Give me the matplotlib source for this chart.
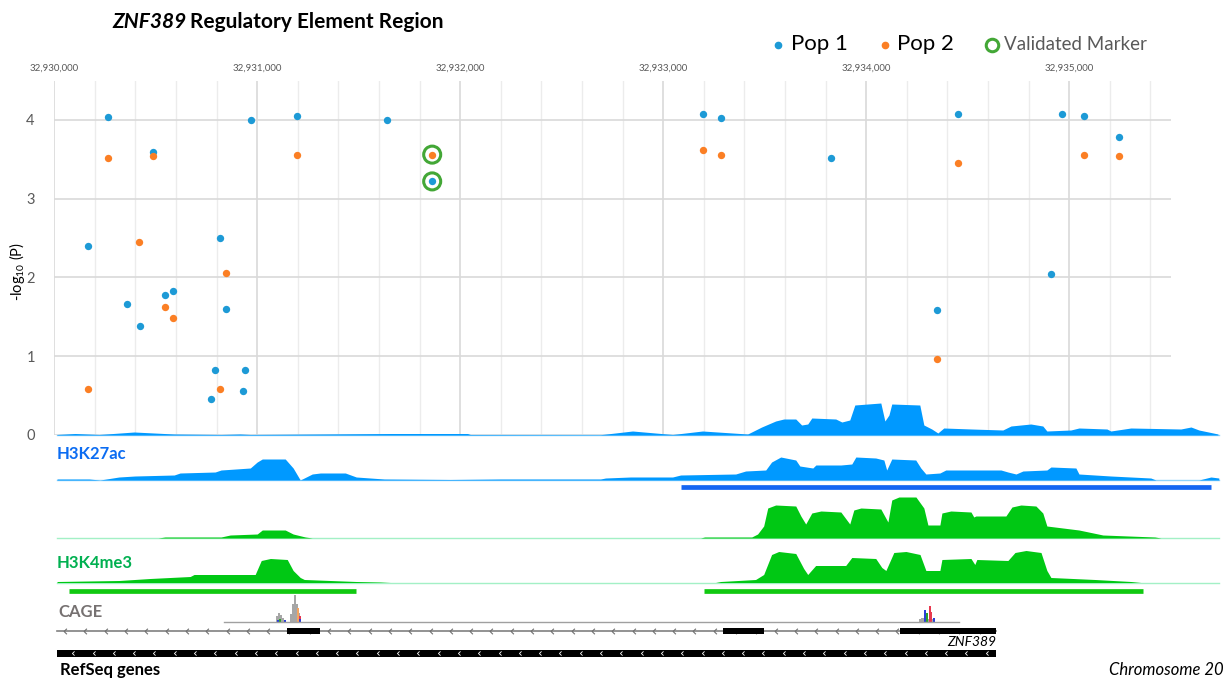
import matplotlib.pyplot as plt
import numpy as np
from matplotlib.lines import Line2D
from matplotlib.path import Path

plt.rcParams['font.family'] = ['Lato', 'DejaVu Sans']
plt.rcParams['mathtext.fontset'] = 'custom'
plt.rcParams['mathtext.rm'] = 'Lato'

START = 32930000
END = 32935500

# association results (-log10 P) for both populations
pop1_pos = [32930168, 32930263, 32930357, 32930421, 32930487, 32930548, 32930587,
            32930770, 32930791, 32930815, 32930848, 32930932, 32930940, 32930967,
            32931195, 32931640, 32931862, 32933198, 32933287, 32933827, 32934348,
            32934450, 32934912, 32934963, 32935073, 32935246]
pop1_logp = [2.40, 4.04, 1.66, 1.39, 3.59, 1.78, 1.83,
             0.46, 0.82, 2.50, 1.60, 0.56, 0.82, 4.00,
             4.05, 4.00, 3.22, 4.08, 4.03, 3.52, 1.59,
             4.08, 2.04, 4.08, 4.05, 3.79]
pop2_pos = [32930168, 32930263, 32930419, 32930487, 32930548, 32930587, 32930815,
            32930848, 32931195, 32931862, 32933198, 32933287, 32934348, 32934450,
            32935073, 32935246]
pop2_logp = [0.58, 3.52, 2.45, 3.54, 1.63, 1.49, 0.58,
             2.06, 3.56, 3.56, 3.62, 3.55, 0.97, 3.45,
             3.55, 3.54]
validated_pos = [32931862, 32931862]
validated_logp = [3.56, 3.22]

# signal tracks, position = bp offset from START, signal in track units
k27_top_pos = [14, 103, 221, 394, 591, 822, 916, 966, 1661, 2036, 2050, 2691, 2849,
               3046, 3194, 3416, 3485, 3554, 3594, 3653, 3682, 3712, 3732, 3850,
               3880, 3919, 3944, 4072, 4092, 4112, 4126, 4264, 4284, 4323, 4353,
               4382, 4520, 4673, 4713, 4811, 4870, 4890, 5008, 5048, 5186, 5205,
               5304, 5550, 5600, 5639, 5733]
k27_top_sig = [0.5, 1.5, 0.5, 3, 1, 0.5, 1, 0.5, 1.5, 1.5, 0.5, 0.3, 4,
               0.5, 4, 1, 8, 14, 16, 16, 10, 11, 17, 16,
               13, 15, 30, 32, 14, 20, 31, 30, 10, 6, 2,
               7, 6, 5, 9, 11, 9, 4, 5, 7, 6, 4,
               7, 6, 8, 5, 1]

k27_pos = [14, 172, 226, 319, 398, 591, 620, 793, 822, 966, 1000, 1025, 1138, 1177,
           1212, 1271, 1311, 1434, 1488, 1626, 1952, 2198, 2691, 2716, 2839, 3046,
           3086, 3357, 3406, 3505, 3534, 3579, 3653, 3673, 3737, 3752, 3875, 3929,
           3949, 4047, 4087, 4101, 4126, 4244, 4269, 4294, 4363, 4392, 4664, 4698,
           4738, 4772, 4890, 4910, 5033, 5048, 5205, 5402, 5427, 5639, 5698, 5737]
k27_sig = [1, 1, 0, 3, 4, 5, 7, 8, 10, 12, 18, 21, 21, 12,
           0, 6, 7, 7, 3, 1, 0.5, 1, 1, 2, 3, 3,
           5, 6, 9, 10, 18, 23, 20, 14, 12, 15, 15, 16,
           23, 22, 20, 10, 21, 20, 12, 6, 7, 10, 10, 8,
           6, 9, 10, 13, 12, 6, 4, 2, 0, 0, 3, 2]

k4_top_pos = [14, 512, 546, 822, 867, 1000, 1025, 1138, 1177, 1237, 1271, 3184, 3204,
              3436, 3465, 3495, 3515, 3554, 3653, 3678, 3702, 3732, 3777, 3875,
              3919, 3939, 3974, 4072, 4107, 4126, 4161, 4245, 4284, 4304, 4363,
              4373, 4417, 4516, 4530, 4540, 4688, 4718, 4762, 4836, 4870, 4890,
              5048, 5166, 5422, 5452, 5738]
k4_top_sig = [0, 0, 1, 1, 3, 4, 8, 8, 4, 1, 0, 0, 1,
              1, 4, 12, 30, 33, 32, 22, 14, 25, 27, 26,
              14, 28, 30, 29, 16, 38, 41, 41, 30, 13, 13,
              25, 27, 26, 21, 22, 22, 31, 33, 32, 25, 12,
              8, 3, 1, 0, 0]

k4_pos = [14, 320, 472, 670, 689, 990, 1020, 1065, 1148, 1177, 1212, 1232, 1488,
          1607, 1656, 3258, 3283, 3455, 3495, 3534, 3569, 3653, 3692, 3712, 3751,
          3899, 3929, 4047, 4077, 4097, 4136, 4196, 4265, 4294, 4363, 4373, 4516,
          4535, 4545, 4698, 4733, 4787, 4861, 4890, 4910, 5127, 5304, 5353, 5738]
k4_sig = [1, 2, 4, 6, 8, 8, 22, 24, 23, 12, 5, 3, 1,
          0.5, 0, 0, 1, 3, 8, 28, 31, 29, 14, 8, 17,
          17, 25, 24, 15, 12, 30, 31, 28, 12, 12, 23, 24,
          18, 23, 22, 30, 32, 30, 12, 5, 3, 1, 0, 0]

# called peaks (start, end) offsets
k27_peaks = [(3086, 5699)]
k4_peaks = [(73, 1488), (3199, 5364)]

# CAGE tag clusters
cage_pos = [1097, 1107, 1117, 1127, 1166, 1176, 1186, 1196, 1206, 1201, 1211,
            1102, 1112, 1137, 1213,
            4265, 4275, 4285, 4294, 4304, 4314, 4324, 4292, 4299, 4312, 4319, 4334]
cage_sig = [6, 9, 7, 4, 8, 18, 27, 18, 9, 14, 6,
            2, 3, 2, 3,
            3, 4, 4, 4, 3, 3, 3, 12, 9, 16, 10, 4]
cage_kind = ['g', 'g', 'g', 'g', 'g', 'g', 'g', 'g', 'g', 'o', 'r',
             'b', 'gr', 'b', 'b',
             'g', 'g', 'g', 'g', 'g', 'g', 'g', 'b', 'gr', 'r', 'r', 'b']
cage_span = (836, 4457)

# ZNF389 gene model
gene_span = (14, 4639)
gene_exons = [(1148, 1311), (3293, 3495), (4166, 4639)]

BLUE = '#1d9ad6'
ORANGE = '#fb7f24'
GREEN_RING = '#43a736'
TRACK_BLUE = '#0099ff'
TRACK_GREEN = '#00c814'

W, H = 1225, 678
X0, X1 = 54.2, 1170.7
Y0, YTOP = 435, 80.6

fig = plt.figure(figsize=(W / 100, H / 100), dpi=100)
ax = fig.add_axes([X0 / W, 1 - Y0 / H, (X1 - X0) / W, (Y0 - YTOP) / H])
ax.patch.set_alpha(0)
for s in ax.spines.values():
    s.set_visible(False)

ax.set_xlim(START, END)
ax.set_ylim(0, 4.5)
ax.set_xticks(np.arange(START, END + 1, 1000))
ax.set_xticks(np.arange(START, END, 200), minor=True)
ax.set_xticklabels([f'{v:,}' for v in range(START, END + 1, 1000)])
ax.xaxis.tick_top()
ax.tick_params(axis='x', which='both', length=0, labelsize=7, labelcolor='#595959', pad=6)
ax.set_yticks([0, 1, 2, 3, 4])
ax.tick_params(axis='y', length=0, labelsize=10.5, labelcolor='#595959', pad=14)
ax.grid(axis='x', which='minor', color='#ececec', lw=1)
ax.grid(axis='x', which='major', color='#d9d9d9', lw=1.2)
ax.grid(axis='y', which='major', color='#d9d9d9', lw=1.2)
ax.set_axisbelow(True)

ax.scatter(pop1_pos, pop1_logp, s=28, color=BLUE, zorder=3, linewidths=0)
ax.scatter(pop2_pos, pop2_logp, s=28, color=ORANGE, zorder=4, linewidths=0)
ax.scatter(validated_pos, validated_logp, s=150, facecolors='none', edgecolors=GREEN_RING,
           linewidths=2.2, zorder=2)

fig.text(17 / W, 1 - 272 / H, r'-log$_{\mathregular{10}}$ (P)', rotation=90,
         ha='center', va='center', fontsize=10.5)

# legend
handles = [Line2D([], [], ls='', marker='o', ms=4.5, color=BLUE),
           Line2D([], [], ls='', marker='o', ms=4.5, color=ORANGE),
           Line2D([], [], ls='', marker='o', ms=9, mfc='none', mec=GREEN_RING, mew=2.2)]
leg = ax.legend(handles, ['Pop 1', 'Pop 2', 'Validated Marker'], ncol=3, frameon=False,
                loc='center left', bbox_to_anchor=(767 / W, 1 - 44 / H),
                bbox_transform=fig.transFigure, handlelength=0.6, handletextpad=0.6,
                columnspacing=2.4, borderpad=0)
for t, size, col in zip(leg.get_texts(), [16, 16, 13.5], ['black', 'black', '#595959']):
    t.set_fontsize(size)
    t.set_color(col)

# title
t1 = fig.text(112 / W, 1 - 22 / H, 'ZNF389', fontsize=15, fontweight='bold',
              fontstyle='italic', va='center')
fig.canvas.draw()
bb = t1.get_window_extent()
fig.text(bb.x1 / W + 4 / W, 1 - 22 / H, 'Regulatory Element Region', fontsize=15,
         fontweight='bold', va='center')

# tracks axis: x in bp, y in pixels from top
bp_per_px = (END - START) / (X1 - X0)
at = fig.add_axes([0, 0, 1, 1], zorder=3)
at.patch.set_alpha(0)
at.axis('off')
at.set_xlim(START - X0 * bp_per_px, START + (W - X0) * bp_per_px)
at.set_ylim(H, 0)


def track(pos, sig, base, fill, line):
    x = START + np.array(pos)
    at.plot([START + 14, START + 5738], [base, base], color=line, lw=1, zorder=1)
    at.fill_between(x, base, base - np.array(sig), color=fill, lw=0, zorder=2)


track(k27_top_pos, k27_top_sig, 435, TRACK_BLUE, '#8fd3fb')
track(k27_pos, k27_sig, 480, TRACK_BLUE, '#8fd3fb')
track(k4_top_pos, k4_top_sig, 538, TRACK_GREEN, '#a3f0c6')
track(k4_pos, k4_sig, 582.5, TRACK_GREEN, '#a3f0c6')

for a, b in k27_peaks:
    at.plot([START + a, START + b], [487.3, 487.3], color='#1466f2', lw=3.4,
            solid_capstyle='butt')
for a, b in k4_peaks:
    at.plot([START + a, START + b], [591.3, 591.3], color='#11c911', lw=3.4,
            solid_capstyle='butt')

at.text(START + 14, 454, 'H3K27ac', color='#0b6cf2', fontsize=12, fontweight='bold',
        va='center')
at.text(START + 14, 563.5, 'H3K4me3', color='#00b050', fontsize=12, fontweight='bold',
        va='center')
at.text(START + 20, 612, 'CAGE', color='#767171', fontsize=12, fontweight='bold',
        va='center')
at.text(START + 30, 670, 'RefSeq genes', color='black', fontsize=12, fontweight='bold',
        va='center')

# CAGE
cage_colors = {'g': '#a6a6a6', 'o': '#f4a460', 'r': '#e8384f', 'b': '#2b3fd6', 'gr': '#2ca02c'}
at.plot([START + cage_span[0], START + cage_span[1]], [622, 622], color='#a0a0a0', lw=1)
at.bar([START + p for p in cage_pos], [-s for s in cage_sig], bottom=621.5, width=10,
       color=[cage_colors[k] for k in cage_kind], lw=0)

# gene model
chev = Path([(0.5, 1), (-0.5, 0), (0.5, -1)], [Path.MOVETO, Path.LINETO, Path.LINETO])
at.plot([START + gene_span[0], START + gene_span[1]], [631, 631], color='#808080', lw=1.2)
ticks = np.arange(START + gene_span[0] + 40, START + gene_span[1], 100)
at.plot(ticks, np.full(len(ticks), 631), ls='', marker=chev, ms=4, mfc='none',
        mec='#707070', mew=0.8)
for a, b in gene_exons:
    at.fill_between([START + a, START + b], 628, 634, color='black', lw=0, zorder=3)
at.text(START + gene_span[1], 642, 'ZNF389', fontsize=10, fontstyle='italic',
        ha='right', va='center')

at.fill_between([START + gene_span[0], START + gene_span[1]], 649.5, 656.5, color='black',
                lw=0)
ticks2 = np.arange(START + gene_span[0] + 80, START + gene_span[1], 100)
at.plot(ticks2, np.full(len(ticks2), 653), ls='', marker=chev, ms=3, mfc='none',
        mec='white', mew=0.6, zorder=4)

at.text(START + 5760, 670, 'Chromosome 20', fontsize=12, fontstyle='italic',
        ha='right', va='center')

fig.savefig('out.png', dpi=100)
